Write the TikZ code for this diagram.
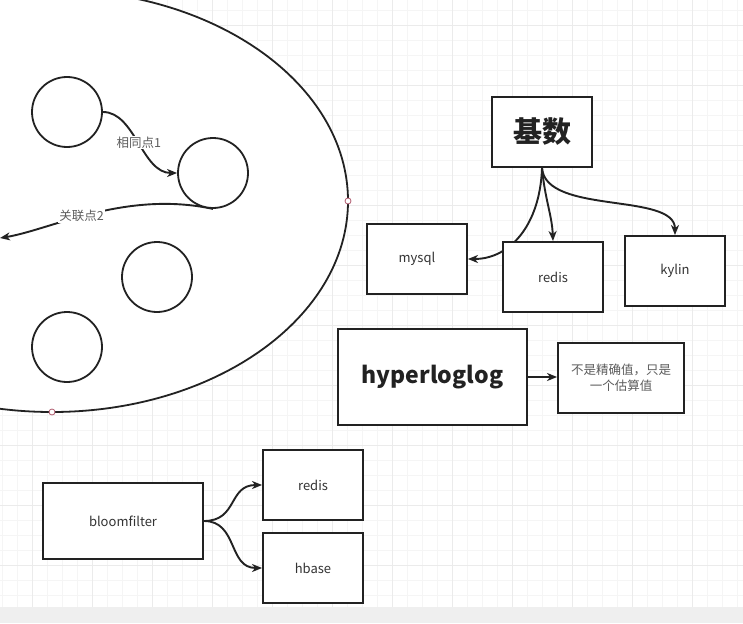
\documentclass[tikz,border=0pt]{standalone}
\usepackage{fontspec}
\setmainfont{Noto Sans CJK SC}
\usetikzlibrary{arrows.meta}
\pgfdeclarelayer{bg}
\pgfdeclarelayer{edges}
\pgfsetlayers{bg,edges,main}
\definecolor{ink}{HTML}{222222}
\definecolor{txt}{HTML}{333333}
\definecolor{gridminor}{HTML}{F5F5F5}
\definecolor{gridmajor}{HTML}{EBEBEB}
\definecolor{strip}{HTML}{EFEFEF}
\definecolor{pinkpt}{HTML}{B05A6E}
\tikzset{
  box/.style={draw=ink, line width=1.9pt, fill=white, rectangle, inner sep=0pt,
    text=txt, font=\fontsize{13}{15}\selectfont},
  bigbox/.style={box, line width=2.3pt, text=ink},
  circ/.style={draw=ink, line width=1.8pt, fill=white, circle, minimum size=70pt, inner sep=0pt},
  arr/.style={draw=ink, line width=1.9pt, -{Stealth[length=10pt,width=8pt,inset=3pt]}},
  lbl/.style={fill=white, inner sep=1pt, text=txt!80, font=\fontsize{12.5}{14}\selectfont},
  cpt/.style={circle, draw=pinkpt, fill=white, line width=0.8pt, minimum size=6pt, inner sep=0pt}
}
\begin{document}
\begin{tikzpicture}[x=1pt,y=-1pt]
\useasboundingbox (0,0) rectangle (743,623);
\clip (0,0) rectangle (743,623);
\begin{pgfonlayer}{bg}
  \fill[white] (0,0) rectangle (743,623);
  \begin{scope}
    \clip (0,0) rectangle (743,607);
    \foreach \x in {2.7,17.7,...,743} \draw[gridminor, line width=0.8pt] (\x,0) -- (\x,607);
    \foreach \y in {10,25,...,607} \draw[gridminor, line width=0.8pt] (0,\y) -- (743,\y);
    \foreach \x in {32.7,92.7,...,743} \draw[gridmajor, line width=0.9pt] (\x,0) -- (\x,607);
    \foreach \y in {25,85,...,607} \draw[gridmajor, line width=0.9pt] (0,\y) -- (743,\y);
  \end{scope}
  \fill[strip] (0,607) rectangle (743,623);
  \draw[ink, line width=1.8pt, fill=white] (52,201) ellipse [x radius=296, y radius=211];
\end{pgfonlayer}

% pink connection points
\node[cpt] (p1) at (348,201) {};
\node[cpt] (p2) at (52,412) {};

% circles
\node[circ] (c1) at (67,112) {};
\node[circ] (c2) at (213,173) {};
\node[circ] (c3) at (157,277) {};
\node[circ] (c4) at (67,347) {};
\coordinate (out2) at (0,238);

% top right boxes
\node[bigbox, minimum width=100pt, minimum height=70pt, font=\fontsize{29}{32}\selectfont\bfseries] (jishu) at (542,132) {基数};
\node[box, minimum width=100pt, minimum height=70pt] (mysql) at (417,259) {mysql};
\node[box, minimum width=100pt, minimum height=70pt] (redis) at (553,277) {redis};
\node[box, minimum width=100pt, minimum height=70pt] (kylin) at (675,271) {kylin};

% hyperloglog
\node[bigbox, minimum width=189pt, minimum height=96pt, font=\fontsize{23}{26}\selectfont\bfseries] (hll) at (432.5,377) {hyperloglog};
\node[box, minimum width=126pt, minimum height=70pt, align=center, font=\fontsize{12.5}{16}\selectfont, text=txt!80] (est) at (621,378) {不是精确值，只是\\一个估算值};

% bloomfilter
\node[box, minimum width=160pt, minimum height=76pt] (bf) at (123,521) {bloomfilter};
\node[box, minimum width=100pt, minimum height=70pt] (redis2) at (313,485) {redis};
\node[box, minimum width=100pt, minimum height=70pt] (hbase) at (313,568) {hbase};

\begin{pgfonlayer}{edges}
  \draw[arr] (c1.east) .. controls (135,112) and (142,173) .. node[lbl, pos=0.5] {相同点1} (c2.west);
  \draw[arr] (c2.south) .. controls (125,190) and (50,230) .. node[lbl, pos=0.55] {关联点2} (out2);
  \draw[arr] (jishu.south) .. controls (540,225) and (510,259) .. (mysql.east);
  \draw[arr] (jishu.south) .. controls (545,200) and (552,215) .. (redis.north);
  \draw[arr] (jishu.south) .. controls (546,215) and (675,192) .. (kylin.north);
  \draw[arr] (hll.east) -- (est.west |- hll.east);
  \draw[arr] (bf.east) .. controls (238,521) and (228,485) .. (redis2.west);
  \draw[arr] (bf.east) .. controls (238,521) and (228,568) .. (hbase.west);
\end{pgfonlayer}
\end{tikzpicture}
\end{document}
